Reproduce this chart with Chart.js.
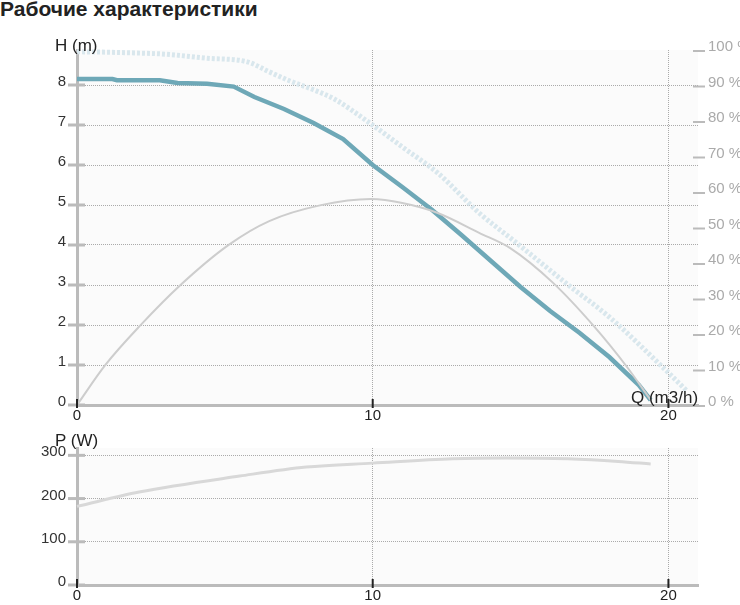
<!DOCTYPE html>
<html lang="ru">
<head>
<meta charset="UTF-8">
<title>Рабочие характеристики</title>
<script src="https://cdn.jsdelivr.net/npm/chart.js"></script>
<style>
  body { margin: 0; background: #fff; font-family: "Liberation Sans", Arial, sans-serif; }
  #wrap { position: relative; width: 740px; height: 605px; overflow: hidden; }
  h1 { position: absolute; left: 0; top: -3px; margin: 0; font-size: 21px; font-weight: bold; color: #222; }
  canvas { position: absolute; left: 0; }
  .lbl { position: absolute; font-size: 17px; color: #222; white-space: nowrap; line-height: 17px; }
</style>
</head>
<body>
<div id="wrap">
  <h1>Рабочие характеристики</h1>
  <canvas id="top" width="740" height="430" style="top:0"></canvas>
  <canvas id="bottom" width="740" height="185" style="top:420px"></canvas>
  <div class="lbl" style="left:55px; top:37px">H (m)</div>
  <div class="lbl" style="left:631px; top:389px">Q (m3/h)</div>
  <div class="lbl" style="left:55px; top:432px">P (W)</div>
</div>

<script>
// напор H (m) от подачи Q (m3/h)
const flowH = [0, 1.2, 1.35, 2.8, 3.4, 4.4, 5.3, 6, 7, 8, 9, 10, 11, 12, 13, 14, 15, 16, 17, 18, 19, 19.4];
const headH = [8.15, 8.15, 8.12, 8.12, 8.05, 8.03, 7.96, 7.7, 7.4, 7.05, 6.65, 6.0, 5.45, 4.88, 4.25, 3.6, 2.95, 2.35, 1.8, 1.2, 0.5, 0.12];

// максимальная кривая (пунктир)
const flowMax = [0, 1, 2, 3, 4.4, 5.75, 6.5, 7.2, 8, 8.7, 9.9, 11, 12.2, 13.6, 14.75, 16.7, 18, 19.8, 20.6];
const headMax = [8.83, 8.82, 8.8, 8.77, 8.67, 8.58, 8.33, 8.1, 7.88, 7.65, 7.05, 6.45, 5.8, 4.8, 4.12, 2.95, 2.2, 0.95, 0.37];

// КПД (%)
const flowEff = [0, 0.96, 2.15, 3.5, 5.13, 6.5, 8.25, 9.95, 11, 12.2, 13.6, 14.65, 16.1, 17.5, 18.6, 19.4];
const effPct = [0, 11.3, 22.5, 33.8, 45.1, 51.8, 56.3, 58.0, 56.9, 54.1, 48.5, 44.2, 34.4, 22.0, 10.7, 1.4];

// мощность P (W)
const flowP = [0, 2.1, 5.5, 7.75, 10, 12.7, 14.5, 16.6, 18.3, 19.4];
const powerW = [182, 215, 252, 273, 282, 292, 294, 292, 286, 280];

// подписи осей
const qTicks = [0, 10, 20];
const hTicks = [0, 1, 2, 3, 4, 5, 6, 7, 8];
const effTicks = [0, 10, 20, 30, 40, 50, 60, 70, 80, 90, 100];
const pTicks = [0, 100, 200, 300];

const pts = (xs, ys) => xs.map((x, i) => ({ x: x, y: ys[i] }));

Chart.defaults.font.family = '"Liberation Sans", Arial, sans-serif';
Chart.defaults.font.size = 15;
Chart.defaults.animation = false;

// фон области графика и короткие засечки на осях
const axisMarks = {
  id: 'axisMarks',
  beforeDraw(chart) {
    const a = chart.chartArea, ctx = chart.ctx;
    ctx.save();
    ctx.fillStyle = '#fbfbfb';
    ctx.fillRect(a.left, a.top, a.right - a.left, a.bottom - a.top);
    ctx.restore();
  },
  afterDraw(chart) {
    const ctx = chart.ctx;
    ctx.save();
    const y = chart.scales.y;
    ctx.strokeStyle = '#bbb';
    ctx.lineWidth = 3;
    y.ticks.forEach(t => {
      const py = y.getPixelForValue(t.value);
      ctx.beginPath(); ctx.moveTo(y.right - 9, py); ctx.lineTo(y.right + 8, py); ctx.stroke();
    });
    const y2 = chart.scales.y2;
    if (y2) {
      ctx.lineWidth = 2;
      y2.ticks.forEach(t => {
        const py = y2.getPixelForValue(t.value) + 1;
        ctx.beginPath(); ctx.moveTo(y2.left - 5, py); ctx.lineTo(y2.left + 7, py); ctx.stroke();
      });
    }
    const x = chart.scales.x;
    ctx.strokeStyle = '#222';
    ctx.lineWidth = 2;
    x.ticks.forEach(t => {
      const px = x.getPixelForValue(t.value);
      ctx.beginPath(); ctx.moveTo(px, x.top - 6); ctx.lineTo(px, x.top + 3); ctx.stroke();
    });
    ctx.restore();
  }
};

function xScale(h) {
  return {
    type: 'linear', min: 0, max: 21,
    afterBuildTicks: s => { s.ticks = qTicks.map(v => ({ value: v })); },
    afterFit: s => { s.height = h; },
    grid: { color: '#aaa', lineWidth: 1, drawTicks: false },
    border: { display: true, color: '#bbb', width: 3, dash: [1, 1] },
    ticks: { padding: 2, color: '#222', maxRotation: 0 }
  };
}

new Chart(document.getElementById('top'), {
  type: 'line',
  data: {
    datasets: [
      { data: pts(flowMax, headMax), yAxisID: 'y', borderColor: '#d9e7ed', borderWidth: 5,
        borderDash: [3, 2], pointRadius: 0, cubicInterpolationMode: 'monotone', clip: false },
      { data: pts(flowEff, effPct), yAxisID: 'y2', borderColor: '#cdcdcd', borderWidth: 2,
        pointRadius: 0, cubicInterpolationMode: 'monotone', clip: false },
      { data: pts(flowH, headH), yAxisID: 'y', borderColor: '#6ea8b7', borderWidth: 4.5,
        pointRadius: 0, tension: 0, clip: false }
    ]
  },
  options: {
    responsive: false,
    devicePixelRatio: 1,
    layout: { padding: { top: 50, left: 0, right: 0, bottom: 0 } },
    plugins: { legend: { display: false }, tooltip: { enabled: false } },
    scales: {
      x: xScale(25),
      y: {
        type: 'linear', min: 0, max: 8.875,
        afterBuildTicks: s => { s.ticks = hTicks.map(v => ({ value: v })); },
        afterFit: s => { s.width = 77; },
        grid: { color: '#aaa', lineWidth: 1, drawTicks: false },
        border: { display: true, color: '#bbb', width: 3, dash: [1, 1] },
        ticks: { padding: 11, color: '#333', labelOffset: -3 }
      },
      y2: {
        type: 'linear', position: 'right', min: 0, max: 100,
        afterBuildTicks: s => { s.ticks = effTicks.map(v => ({ value: v })); },
        afterFit: s => { s.width = 42; },
        grid: { drawOnChartArea: false, drawTicks: false },
        border: { display: false },
        ticks: { padding: 10, color: '#aaa', labelOffset: -3, callback: v => v + ' %' }
      }
    }
  },
  plugins: [axisMarks]
});

new Chart(document.getElementById('bottom'), {
  type: 'line',
  data: {
    datasets: [
      { data: pts(flowP, powerW), borderColor: '#d8d8d8', borderWidth: 3,
        pointRadius: 0, cubicInterpolationMode: 'monotone', clip: false }
    ]
  },
  options: {
    responsive: false,
    devicePixelRatio: 1,
    layout: { padding: { top: 28, left: 0, right: 42, bottom: 0 } },
    plugins: { legend: { display: false }, tooltip: { enabled: false } },
    scales: {
      x: xScale(17),
      y: {
        type: 'linear', min: 0, max: 317,
        afterBuildTicks: s => { s.ticks = pTicks.map(v => ({ value: v })); },
        afterFit: s => { s.width = 77; },
        grid: { color: '#aaa', lineWidth: 1, drawTicks: false },
        border: { display: true, color: '#bbb', width: 3, dash: [1, 1] },
        ticks: { padding: 11, color: '#333', labelOffset: -3 }
      }
    }
  },
  plugins: [axisMarks]
});
</script>
</body>
</html>
